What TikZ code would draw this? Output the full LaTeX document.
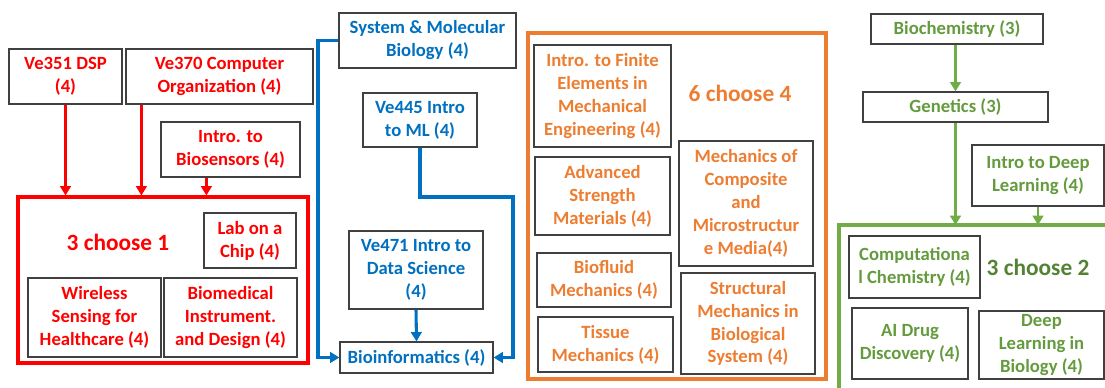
\documentclass[tikz,border=0pt]{standalone}
\usepackage{fontspec}
\setmainfont{Carlito}
\usetikzlibrary{arrows.meta}
\definecolor{cred}{RGB}{255,0,0}
\definecolor{cblue}{RGB}{0,112,192}
\definecolor{corange}{RGB}{237,125,49}
\definecolor{cgreen}{RGB}{112,173,71}
\definecolor{cgtext}{RGB}{100,155,62}
\definecolor{cdgreen}{RGB}{84,130,53}
\definecolor{cgray}{RGB}{64,64,64}
\tikzset{
  box/.style={draw=cgray, line width=0.9pt, fill=white, inner sep=0pt, align=center,
    font=\bfseries\fontsize{14}{17.2}\selectfont},
  grp/.style={inner sep=0pt, line width=2.3pt},
  chooselbl/.style={inner sep=0pt, font=\bfseries\fontsize{17.5}{20}\selectfont},
  redarr/.style={draw=cred, line width=2.3pt, -{Triangle[length=7pt,width=8pt]}},
  bluearr/.style={draw=cblue, line width=2.3pt, -{Triangle[length=7pt,width=8pt]}},
  greenarr/.style={draw=cgreen, line width=2pt, -{Triangle[length=7pt,width=8pt]}},
}
\newcommand\cbox[7]{%
  \node[box, text=#6, minimum width={(#4-#2)*0.75pt}, minimum height={(#5-#3)*0.75pt}]
    (#1) at ({(#2+#4)/2},{(#3+#5)/2}) {#7};}
\newcommand\gbox[6]{%
  \node[grp, draw=#6, minimum width={(#4-#2)*0.75pt}, minimum height={(#5-#3)*0.75pt}]
    (#1) at ({(#2+#4)/2},{(#3+#5)/2}) {};}
\begin{document}
\begin{tikzpicture}[x=0.75pt,y=-0.75pt]
\useasboundingbox (0,0) rectangle (1105,388);
% ---------- red group ----------
\gbox{grpA}{18}{197}{308}{363}{cred}
\node[chooselbl, text=cred] (lblA) at (118,242) {3 choose 1};
\cbox{v351}{9}{49}{122}{104}{cred}{Ve351 DSP\\(4)}
\cbox{v370}{126}{49}{313}{104}{cred}{Ve370 Computer\\Organization (4)}
\cbox{bios}{161}{122}{300}{177}{cred}{Intro. to\\Biosensors (4)}
\cbox{lab}{204}{213}{296}{268}{cred}{Lab on a\\Chip (4)}
\cbox{wire}{28}{278}{161}{357}{cred}{Wireless\\Sensing for\\Healthcare (4)}
\cbox{biomed}{164}{278}{297}{357}{cred}{Biomedical\\Instrument.\\and Design (4)}
\draw[redarr] (v351.south) -- (v351.south |- grpA.north);
\draw[redarr] ([xshift=12pt]v370.south west) -- ([xshift=12pt]v370.south west |- grpA.north);
\draw[redarr] ([xshift=34.5pt]bios.south west) -- ([xshift=34.5pt]bios.south west |- grpA.north);
% ---------- blue ----------
\cbox{sys}{339}{13}{516}{68}{cblue}{System \& Molecular\\Biology (4)}
\cbox{ml}{363}{93}{477}{147}{cblue}{Ve445 Intro\\to ML (4)}
\cbox{ds}{349}{231}{483}{309}{cblue}{Ve471 Intro to\\Data Science\\(4)}
\cbox{bio}{340}{342}{493}{373}{cblue}{Bioinformatics (4)}
\coordinate (bl) at (318,357.5);
\coordinate (br) at (513,197);
\draw[bluearr] (sys.west) -| (bl) -- (bio.west);
\draw[bluearr] (ml.south) |- (br) |- (bio.east);
\draw[bluearr] (ds.south) -- (bio.north);
% ---------- orange group ----------
\gbox{grpB}{528}{33}{826}{379}{corange}
\node[chooselbl, text=corange] (lblB) at (740,93) {6 choose 4};
\cbox{fin}{534}{45}{671}{147}{corange}{Intro. to Finite\\Elements in\\Mechanical\\Engineering (4)}
\cbox{adv}{535}{157}{670}{235}{corange}{Advanced\\Strength\\Materials (4)}
\cbox{comp}{679}{141}{813}{266}{corange}{Mechanics of\\Composite\\and\\Microstructur\\e Media(4)}
\cbox{flu}{537}{253}{671}{307}{corange}{Biofluid\\Mechanics (4)}
\cbox{struc}{681}{273}{815}{374}{corange}{Structural\\Mechanics in\\Biological\\System (4)}
\cbox{tis}{538}{317}{673}{372}{corange}{Tissue\\Mechanics (4)}
% ---------- green ----------
\coordinate (gbl) at (839,390);
\coordinate (gtl) at (839,225);
\coordinate (gtr) at (1108,225);
\draw[cgreen, line width=2.3pt] (gbl) -- (gtl) -- (gtr);
\node[chooselbl, text=cdgreen] (lblC) at (1038,267) {3 choose 2};
\cbox{bchem}{871}{14}{1043}{44}{cgtext}{Biochemistry (3)}
\cbox{gen}{863}{92}{1048}{122}{cgtext}{Genetics (3)}
\cbox{idl}{972}{145}{1104}{206}{cgtext}{Intro to Deep\\Learning (4)}
\cbox{cchem}{849}{236}{980}{298}{cgtext}{Computationa\\l Chemistry (4)}
\cbox{ai}{852}{308}{968}{379}{cgtext}{AI Drug\\Discovery (4)}
\cbox{dlb}{979}{311}{1104}{379}{cgtext}{Deep\\Learning in\\Biology (4)}
\draw[greenarr] (gen.north |- bchem.south) -- (gen.north);
\draw[greenarr] (gen.south) -- (gen.south |- gtl);
\draw[greenarr] (idl.south) -- (idl.south |- gtl);
\end{tikzpicture}
\end{document}
